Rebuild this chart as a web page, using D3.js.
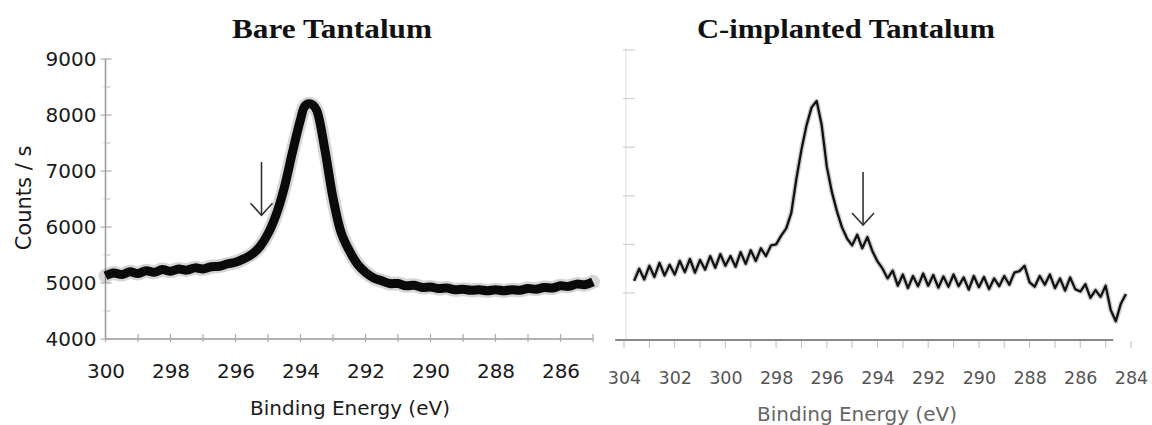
<!DOCTYPE html>
<html>
<head>
<meta charset="utf-8">
<script src="https://cdn.jsdelivr.net/npm/d3@7"></script>
<style>
  html, body { margin: 0; padding: 0; background: #fff; }
  svg { display: block; }
</style>
</head>
<body>
<svg id="chart" width="1152" height="425"></svg>
<script>
// ---------------- DATA ----------------
const titles = ["Bare Tantalum", "C-implanted Tantalum"];
const xAxisTitle = "Binding Energy (eV)";
const yAxisTitle = "Counts / s";

const leftXTicks = [300, 298, 296, 294, 292, 290, 288, 286];
const leftXMinor = [300, 299, 298, 297, 296, 295, 294, 293, 292, 291, 290, 289, 288, 287, 286, 285];
const leftYTicks = [4000, 5000, 6000, 7000, 8000, 9000];
const leftYMinor = [4500, 5500, 6500, 7500, 8500];
const rightXTicks = [304, 302, 300, 298, 296, 294, 292, 290, 288, 286, 284];
const rightXMinor = [304, 303, 302, 301, 300, 299, 298, 297, 296, 295, 294, 293, 292, 291, 290, 289, 288, 287, 286, 285, 284];
const rightYTicks = [4000, 5000, 6000, 7000, 8000, 9000];

// Bare tantalum spectrum: [binding energy eV, counts/s]
const bareSpectrum = [
  [300.0,5130],[299.75,5180],[299.5,5150],[299.25,5200],[299.0,5170],[298.75,5220],[298.5,5190],
  [298.25,5240],[298.0,5210],[297.75,5250],[297.5,5230],[297.25,5270],[297.0,5250],[296.75,5290],
  [296.5,5300],[296.25,5340],[296.0,5370],[295.75,5430],[295.5,5510],[295.25,5650],[295.0,5880],
  [294.75,6220],[294.5,6700],[294.25,7330],[294.0,7920],[293.875,8150],[293.75,8200],[293.625,8180],
  [293.5,8080],[293.25,7380],[293.0,6520],[292.75,5900],[292.5,5580],[292.25,5340],[292.0,5190],
  [291.75,5090],[291.5,5040],[291.25,4990],[291.0,4990],[290.75,4950],[290.5,4960],[290.25,4920],
  [290.0,4930],[289.75,4900],[289.5,4910],[289.25,4880],[289.0,4890],[288.75,4870],[288.5,4880],
  [288.25,4860],[288.0,4880],[287.75,4860],[287.5,4880],[287.25,4870],[287.0,4900],[286.75,4890],
  [286.5,4920],[286.25,4910],[286.0,4950],[285.75,4940],[285.5,4980],[285.25,4970],[285.0,5020]
];

// C-implanted tantalum spectrum (arbitrary counts, same tick spacing)
const implantedSpectrum = [
  [303.6,4250],[303.4,4500],[303.2,4280],[303.0,4560],[302.8,4330],[302.6,4620],[302.4,4360],
  [302.2,4580],[302.0,4380],[301.8,4660],[301.6,4430],[301.4,4700],[301.2,4420],[301.0,4680],
  [300.8,4480],[300.6,4760],[300.4,4520],[300.2,4800],[300.0,4560],[299.8,4760],[299.6,4540],
  [299.4,4840],[299.2,4600],[299.0,4880],[298.8,4660],[298.6,4920],[298.4,4760],[298.2,4980],
  [298.0,5000],[297.8,5180],[297.6,5330],[297.4,5650],[297.2,6350],[297.0,6950],[296.8,7450],
  [296.6,7820],[296.4,7950],[296.2,7450],[296.0,6600],[295.8,6080],[295.6,5680],[295.4,5350],
  [295.2,5120],[295.0,4980],[294.8,5200],[294.6,4920],[294.4,5150],[294.2,4860],[294.0,4650],
  [293.8,4500],[293.6,4300],[293.4,4460],[293.2,4150],[293.0,4380],[292.8,4100],[292.6,4350],
  [292.4,4140],[292.2,4400],[292.0,4150],[291.8,4370],[291.6,4110],[291.4,4340],[291.2,4130],
  [291.0,4380],[290.8,4140],[290.6,4320],[290.4,4070],[290.2,4350],[290.0,4120],[289.8,4330],
  [289.6,4080],[289.4,4300],[289.2,4140],[289.0,4350],[288.8,4170],[288.6,4420],[288.4,4450],
  [288.2,4560],[288.0,4220],[287.8,4130],[287.6,4350],[287.4,4170],[287.2,4380],[287.0,4100],
  [286.8,4300],[286.6,4050],[286.4,4320],[286.2,4080],[286.0,4030],[285.8,4180],[285.6,3900],
  [285.4,4060],[285.2,3920],[285.0,4150],[284.8,3650],[284.6,3420],[284.4,3780],[284.2,3980]
];

// Arrows: [energy, from counts, to counts]
const bareArrow = [295.2, 7160, 6210];
const implantedArrow = [294.57, 6490, 5400];

// ---------------- LAYOUT ----------------
const svg = d3.select("#chart");
const sans = "DejaVu Sans, Liberation Sans, Arial, sans-serif";
const serif = "Liberation Serif, Times New Roman, serif";

const xL = d3.scaleLinear().domain([300, 285]).range([105.5, 593]);
const yL = d3.scaleLinear().domain([4000, 9000]).range([339, 59]);
const xR = d3.scaleLinear().domain([304, 284]).range([624, 1131]);
const yR = d3.scaleLinear().domain([4000, 9000]).range([293, 50]);

// ---------- Titles ----------
svg.append("text").attr("x", 332).attr("y", 38).attr("text-anchor", "middle")
  .attr("font-family", serif).attr("font-weight", "bold").attr("font-size", 27)
  .attr("textLength", 200).attr("lengthAdjust", "spacingAndGlyphs").attr("fill", "#111")
  .text(titles[0]);
svg.append("text").attr("x", 846).attr("y", 38).attr("text-anchor", "middle")
  .attr("font-family", serif).attr("font-weight", "bold").attr("font-size", 27)
  .attr("textLength", 298).attr("lengthAdjust", "spacingAndGlyphs").attr("fill", "#111")
  .text(titles[1]);

// ---------- LEFT PANEL ----------
const gL = svg.append("g");
gL.append("line").attr("x1", xL(300)).attr("x2", xL(300)).attr("y1", yL(9000)).attr("y2", yL(4000))
  .attr("stroke", "#999").attr("stroke-width", 1.5);
gL.append("line").attr("x1", xL(300)).attr("x2", xL(285)).attr("y1", yL(4000)).attr("y2", yL(4000))
  .attr("stroke", "#999").attr("stroke-width", 1.5);
gL.selectAll(".ymaj").data(leftYTicks).join("line")
  .attr("x1", xL(300) - 5).attr("x2", xL(300) + 6)
  .attr("y1", d => yL(d)).attr("y2", d => yL(d)).attr("stroke", "#aaa").attr("stroke-width", 1.2);
gL.selectAll(".ymin").data(leftYMinor).join("line")
  .attr("x1", xL(300) - 2).attr("x2", xL(300) + 5)
  .attr("y1", d => yL(d)).attr("y2", d => yL(d)).attr("stroke", "#bbb").attr("stroke-width", 1);
gL.selectAll(".xmin").data(leftXMinor).join("line")
  .attr("x1", d => xL(d)).attr("x2", d => xL(d))
  .attr("y1", yL(4000) - 5).attr("y2", yL(4000) + 3).attr("stroke", "#aaa").attr("stroke-width", 1.2);

const yAxisL = gL.append("g").attr("transform", `translate(${xL(300)},0)`)
  .call(d3.axisLeft(yL).tickValues(leftYTicks).tickSize(0).tickPadding(9).tickFormat(d3.format("d")));
yAxisL.select(".domain").remove();
yAxisL.selectAll("text").attr("font-family", sans).attr("font-size", 20).attr("fill", "#1a1a1a");

const xAxisL = gL.append("g").attr("transform", `translate(0,${yL(4000)})`)
  .call(d3.axisBottom(xL).tickValues(leftXTicks).tickSize(0).tickFormat(d3.format("d")));
xAxisL.select(".domain").remove();
xAxisL.selectAll("text").attr("y", 39).attr("dy", 0)
  .attr("font-family", sans).attr("font-size", 20).attr("fill", "#1a1a1a");

gL.append("text").attr("x", 350).attr("y", 415).attr("text-anchor", "middle")
  .attr("font-family", sans).attr("font-size", 20).attr("fill", "#1a1a1a").text(xAxisTitle);
gL.append("text").attr("transform", "translate(31,198) rotate(-90)").attr("text-anchor", "middle")
  .attr("font-family", sans).attr("font-size", 21).attr("fill", "#1a1a1a").text(yAxisTitle);

const lineL = d3.line().x(d => xL(d[0])).y(d => yL(d[1])).curve(d3.curveCatmullRom);
gL.append("path").datum(bareSpectrum).attr("d", lineL).attr("fill", "none")
  .attr("stroke", "#444").attr("stroke-opacity", 0.22).attr("stroke-width", 14)
  .attr("stroke-linejoin", "round").attr("stroke-linecap", "round");
gL.append("path").datum(bareSpectrum).attr("d", lineL).attr("fill", "none")
  .attr("stroke", "#0a0a0a").attr("stroke-width", 9)
  .attr("stroke-linejoin", "round").attr("stroke-linecap", "butt");

function drawArrow(g, x, y, a) {
  const xp = x(a[0]), y1 = y(a[1]), y2 = y(a[2]);
  g.append("line").attr("x1", xp).attr("x2", xp).attr("y1", y1).attr("y2", y2)
    .attr("stroke", "#333").attr("stroke-width", 1.6);
  g.append("path").attr("d", `M${xp - 11},${y2 - 12} L${xp},${y2} L${xp + 11},${y2 - 12}`)
    .attr("fill", "none").attr("stroke", "#333").attr("stroke-width", 1.6);
}
drawArrow(gL, xL, yL, bareArrow);

// ---------- RIGHT PANEL ----------
const gR = svg.append("g");
gR.append("line").attr("x1", 626).attr("x2", 626).attr("y1", 48).attr("y2", 340)
  .attr("stroke", "#e2e2e2").attr("stroke-width", 1.2);
gR.selectAll(".ryt").data(rightYTicks).join("line")
  .attr("x1", 623).attr("x2", 635).attr("y1", d => yR(d)).attr("y2", d => yR(d))
  .attr("stroke", "#d0d0d0").attr("stroke-width", 1.2);
gR.append("line").attr("x1", xR(304.35)).attr("x2", xR(284.7)).attr("y1", 340).attr("y2", 340)
  .attr("stroke", "#888").attr("stroke-width", 2);
gR.selectAll(".rxt").data(rightXMinor).join("line")
  .attr("x1", d => xR(d)).attr("x2", d => xR(d)).attr("y1", 341).attr("y2", 348)
  .attr("stroke", "#c8c8c8").attr("stroke-width", 1.2);

const xAxisR = gR.append("g").attr("transform", "translate(0,340)")
  .call(d3.axisBottom(xR).tickValues(rightXTicks).tickSize(0).tickFormat(d3.format("d")));
xAxisR.select(".domain").remove();
xAxisR.selectAll("text").attr("y", 44).attr("dy", 0)
  .attr("font-family", sans).attr("font-size", 17.5).attr("fill", "#555");

gR.append("text").attr("x", 857).attr("y", 421).attr("text-anchor", "middle")
  .attr("font-family", sans).attr("font-size", 20).attr("fill", "#666").text(xAxisTitle);

const lineR = d3.line().x(d => xR(d[0])).y(d => yR(d[1]));
gR.append("path").datum(implantedSpectrum).attr("d", lineR).attr("fill", "none")
  .attr("stroke", "#555").attr("stroke-opacity", 0.3).attr("stroke-width", 5)
  .attr("stroke-linejoin", "round");
gR.append("path").datum(implantedSpectrum).attr("d", lineR).attr("fill", "none")
  .attr("stroke", "#111").attr("stroke-width", 2.3)
  .attr("stroke-linejoin", "round");

drawArrow(gR, xR, yR, implantedArrow);
</script>
</body>
</html>
